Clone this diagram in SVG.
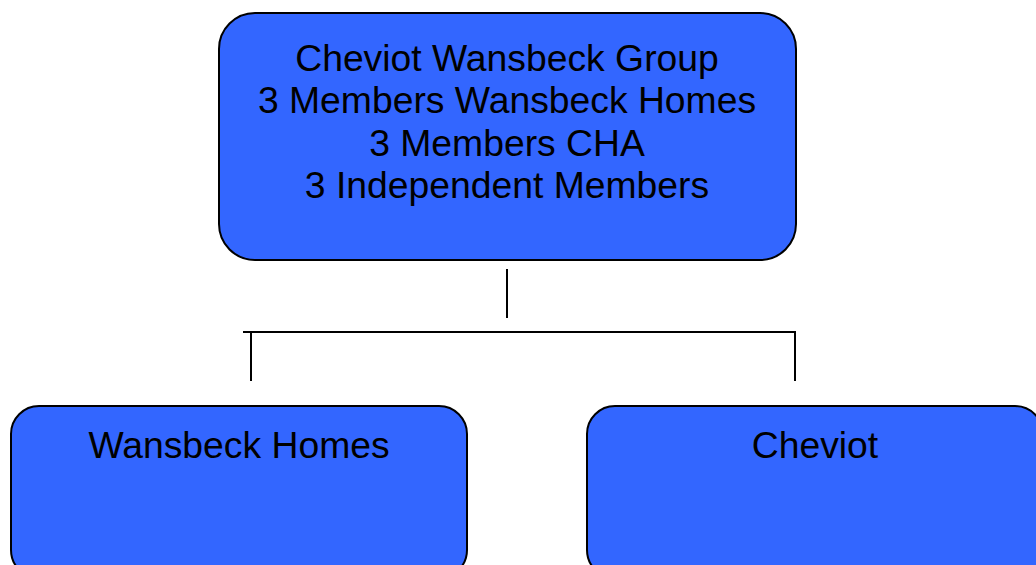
<svg xmlns="http://www.w3.org/2000/svg" width="1036" height="565" viewBox="0 0 1036 565">
<style>
.box{fill:#3366FF;stroke:#000;stroke-width:2}
.t{font-family:"Liberation Sans",Arial,sans-serif;font-size:37.3px;fill:#000;text-anchor:middle}
.c{stroke:#000;stroke-width:2;fill:none}
</style>
<rect width="1036" height="565" fill="#fff"/>
<g id="group">
<rect class="box" x="219" y="13" width="577" height="247" rx="36" ry="36"/>
<text class="t" x="507" y="70.5">Cheviot Wansbeck Group</text>
<text class="t" x="507" y="112.5">3 Members Wansbeck Homes</text>
<text class="t" x="507" y="155.5">3 Members CHA</text>
<text class="t" x="507" y="197.5">3 Independent Members</text>
</g>
<g id="connectors">
<line class="c" x1="507" y1="269" x2="507" y2="318"/>
<line class="c" x1="243" y1="332" x2="796" y2="332"/>
<line class="c" x1="251" y1="332" x2="251" y2="381"/>
<line class="c" x1="795" y1="332" x2="795" y2="381"/>
</g>
<g id="wansbeck">
<rect class="box" x="11" y="406" width="456" height="172" rx="28" ry="28"/>
<text class="t" x="239" y="457.5">Wansbeck Homes</text>
</g>
<g id="cheviot">
<rect class="box" x="587" y="406" width="456" height="172" rx="28" ry="28"/>
<text class="t" x="815" y="457.5">Cheviot</text>
</g>
</svg>
